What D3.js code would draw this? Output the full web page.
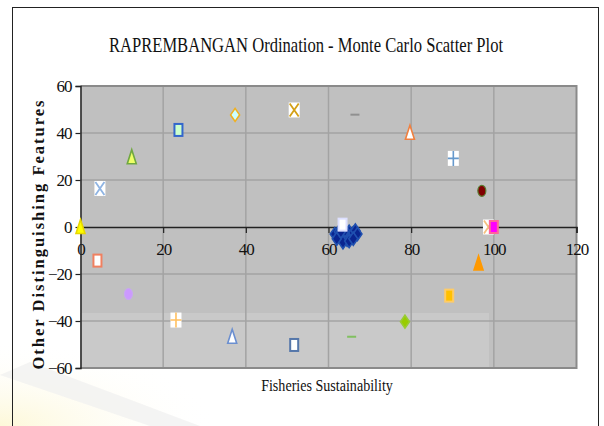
<!DOCTYPE html>
<html>
<head>
<meta charset="utf-8">
<script src="https://cdn.jsdelivr.net/npm/d3@7"></script>
<style>
  body { margin: 0; background: #fff; }
  svg text { font-family: "Liberation Serif", "DejaVu Serif", serif; fill: #111; }
</style>
</head>
<body>
<script>
// values
const fisheries = [0, 4.7, 12.4, 23.7, 37.4, 51.7, 66.4, 79.7, 90.2, 97.1, 98.7, 100, 63.4,
                   4.1, 11.6, 23.1, 36.7, 51.7, 65.6, 78.5, 89.2, 96.3];
const otherFeat = [0, 16.4, 29.7, 41.3, 47.7, 49.8, 47.8, 40.1, 29.2, 15.4, 0, 0, 1,
                   -14.3, -28.5, -39.6, -46.7, -50.2, -46.7, -40.3, -29.2, -15.5];
// Monte Carlo cloud (dark blue diamonds)
const mcX = [61.5, 62.5, 63, 64, 64.5, 65, 65.5, 66, 66.5, 67, 63.5, 62, 65, 64, 66, 63];
const mcY = [-3, -2, -4.5, -3, -5.5, -2, -4, -2.5, -1.5, -3, -6.5, -5, -6, -1.5, -5, -2];

const xTicks = [0, 20, 40, 60, 80, 100, 120];
const yTicks = [-60, -40, -20, 0, 20, 40, 60];

// marker look per point (same order as fisheries/otherFeat)
const markerShape = ["tri", "xbox", "tri", "sq", "dia", "xbox", "dash", "tri", "plus", "circ", "xbox", "sq", "sq",
                     "sq", "circ", "plus", "tri", "sq", "dash", "dia", "sq", "tri"];
const markerFill = ["#ffff00", "#fff", "#eeff66", "#ccffcc", "#ccffff", "#fff", "none", "#fff", "#fff", "#800000", "#fff", "#ff00ff", "#fff",
                    "#fff", "#cc99ff", "#fff", "#fff", "#fff", "none", "#99cc00", "#ffc000", "#ff9900"];
const markerStroke = ["#e8d800", "#8fb4e3", "#70a840", "#3366cc", "#f0b020", "#d4a017", "#909090", "#f08040", "#6699cc", "#5a7a30", "#f5c080", "#ff6699", "#dde0ff",
                      "#f08060", "#c8a8f0", "#ffc060", "#6b8fd0", "#5577aa", "#80c060", "#99cc33", "#ffcc66", "#ff9900"];

const W = 604, H = 426;
const svg = d3.select("body").append("svg").attr("width", W).attr("height", H);

// faint watermark in the lower left
const defs = svg.append("defs");
const grad = defs.append("radialGradient").attr("id", "wm").attr("cx", "0%").attr("cy", "100%").attr("r", "100%");
grad.append("stop").attr("offset", "0%").attr("stop-color", "#fdf8d8");
grad.append("stop").attr("offset", "100%").attr("stop-color", "#fff").attr("stop-opacity", 0);
svg.append("rect").attr("x", 0).attr("y", 340).attr("width", 220).attr("height", 86).attr("fill", "url(#wm)");
svg.append("path").attr("d", "M0,375 L30,362 L200,426 L150,426 Z").attr("fill", "#f0f0f0").attr("opacity", 0.7);

// outer chart frame
svg.append("rect").attr("x", 12.5).attr("y", 7.5).attr("width", 586).attr("height", 440)
   .attr("fill", "none").attr("stroke", "#222").attr("stroke-width", 1);

const x = d3.scaleLinear().domain([0, 120]).range([80.5, 576.5]);
const y = d3.scaleLinear().domain([-60, 60]).range([368, 86]);

// plot area
svg.append("rect").attr("x", x(0)).attr("y", y(60)).attr("width", x(120) - x(0)).attr("height", y(-60) - y(60))
   .attr("fill", "#c0c0c0");
// lighter band over the bottom of the plot
svg.append("rect").attr("x", x(0)).attr("y", 313).attr("width", 489 - x(0)).attr("height", y(-60) - 313)
   .attr("fill", "#c9c9c9");

// gridlines
svg.append("g").selectAll("line").data(xTicks.filter(d => d > 0 && d < 120)).enter().append("line")
   .attr("x1", d => x(d)).attr("x2", d => x(d)).attr("y1", y(60)).attr("y2", y(-60))
   .attr("stroke", "#a3a3a3").attr("stroke-width", 1.5);
svg.append("g").selectAll("line").data(yTicks.filter(d => d !== 0 && d > -60 && d < 60)).enter().append("line")
   .attr("x1", x(0)).attr("x2", x(120)).attr("y1", d => y(d)).attr("y2", d => y(d))
   .attr("stroke", "#a3a3a3").attr("stroke-width", 1.5);

// plot border (top/right/bottom)
svg.append("path")
   .attr("d", `M${x(0)},${y(60)} H${x(120)} V${y(-60)} H${x(0)}`)
   .attr("fill", "none").attr("stroke", "#8a8a8a").attr("stroke-width", 2);

// axes
const xAxis = svg.append("g").attr("transform", `translate(0,${y(0)})`)
   .call(d3.axisBottom(x).tickValues(xTicks).tickSize(6).tickPadding(10));
const yAxis = svg.append("g").attr("transform", `translate(${x(0)},0)`)
   .call(d3.axisLeft(y).tickValues(yTicks).tickSize(5).tickPadding(4));
[xAxis, yAxis].forEach(g => {
  g.attr("font-family", null);
  g.select(".domain").attr("stroke", "#222").attr("stroke-width", 1.5);
  g.selectAll(".tick line").attr("stroke", "#222").attr("stroke-width", 1.2);
  g.selectAll("text").style("font-size", "17px").style("font-family", "'Liberation Serif', serif")
   .style("letter-spacing", "-1px").attr("fill", "#111");
});
xAxis.select(".tick line").attr("opacity", 0);

// markers
function drawMarker(g, shape, fill, stroke) {
  const w = 4.5, h = 6.5;
  if (shape === "sq") {
    g.append("rect").attr("x", -w + 0.5).attr("y", -h + 0.5).attr("width", 2 * w - 1).attr("height", 2 * h - 1)
     .attr("fill", fill).attr("stroke", stroke).attr("stroke-width", 2);
  } else if (shape === "tri") {
    g.append("path").attr("d", `M0,${-h - 1} L${w},${h} L${-w},${h} Z`)
     .attr("fill", fill).attr("stroke", stroke).attr("stroke-width", 1.6);
  } else if (shape === "dia") {
    g.append("path").attr("d", `M0,${-h} L${w},0 L0,${h} L${-w},0 Z`)
     .attr("fill", fill).attr("stroke", stroke).attr("stroke-width", 1.6);
  } else if (shape === "circ") {
    g.append("ellipse").attr("rx", w - 0.5).attr("ry", h - 1)
     .attr("fill", fill).attr("stroke", stroke).attr("stroke-width", 1.2);
  } else if (shape === "xbox") {
    g.append("rect").attr("x", -w - 1).attr("y", -h - 1).attr("width", 2 * w + 2).attr("height", 2 * h + 2).attr("fill", "#fff");
    g.append("path").attr("d", `M${-w},${-h} L${w},${h} M${w},${-h} L${-w},${h}`)
     .attr("stroke", stroke).attr("stroke-width", 1.8);
  } else if (shape === "plus") {
    g.append("rect").attr("x", -w - 1).attr("y", -h - 1).attr("width", 2 * w + 2).attr("height", 2 * h + 2).attr("fill", "#fff");
    g.append("path").attr("d", `M0,${-h - 1} V${h + 1} M${-w - 1},0 H${w + 1}`)
     .attr("stroke", stroke).attr("stroke-width", 1.6);
  } else if (shape === "dash") {
    g.append("path").attr("d", `M${-w},0 H${w}`).attr("stroke", stroke).attr("stroke-width", 2);
  }
}

const pts = svg.append("g");
// Monte Carlo cloud
mcX.forEach((v, i) => {
  const g = pts.append("g").attr("transform", `translate(${x(v)},${y(mcY[i])})`);
  drawMarker(g, "dia", "#0a2590", "#2050b0");
});
fisheries.forEach((v, i) => {
  const g = pts.append("g").attr("transform", `translate(${x(v)},${y(otherFeat[i])})`);
  drawMarker(g, markerShape[i], markerFill[i], markerStroke[i]);
});

// titles (condensed look via horizontal scale)
svg.append("text").attr("transform", "translate(306,52) scale(0.79,1)").attr("text-anchor", "middle")
   .style("font-size", "21px").text("RAPREMBANGAN  Ordination - Monte Carlo Scatter Plot");
svg.append("text").attr("transform", "translate(327,391) scale(0.88,1)").attr("text-anchor", "middle")
   .style("font-size", "16px").text("Fisheries Sustainability");
svg.append("text").attr("transform", "translate(44,234) rotate(-90)").attr("text-anchor", "middle")
   .style("font-size", "16.5px").style("font-weight", "bold").style("letter-spacing", "2px")
   .text("Other  Distinguishing  Features");
</script>
</body>
</html>
